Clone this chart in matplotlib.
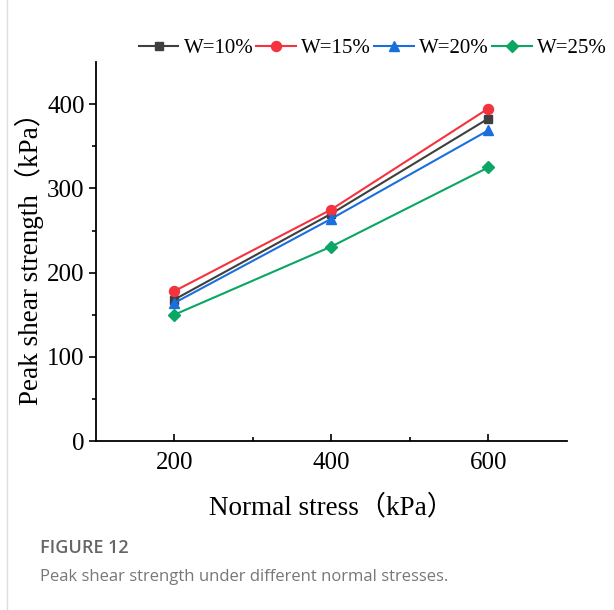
import matplotlib
matplotlib.use('Agg')
import matplotlib.pyplot as plt
from matplotlib.lines import Line2D

plt.rcParams['font.family'] = ['Liberation Serif', 'Noto Sans CJK SC']

stress = [200, 400, 600]
w10 = [168, 270, 383]
w15 = [178, 275, 395]
w20 = [164, 264, 369]
w25 = [150, 231, 325]
labels = ['W=10%', 'W=15%', 'W=20%', 'W=25%']

fig = plt.figure(figsize=(6.14, 6.10), dpi=100)
ax = fig.add_axes([0.156, 0.277, 0.767, 0.621])

ax.plot(stress, w10, color='#3f3f3f', marker='s', ms=6.3, lw=1.5, label=labels[0])
ax.plot(stress, w15, color='#f5333f', marker='o', ms=7.2, lw=1.5, label=labels[1])
ax.plot(stress, w20, color='#1a6fdf', marker='^', ms=7.5, lw=1.5, label=labels[2])
ax.plot(stress, w25, color='#0aa664', marker='D', ms=6, lw=1.5, label=labels[3])

ax.set_xlim(100, 700)
ax.set_ylim(0, 450)
ax.set_xticks([200, 400, 600])
ax.set_xticks([300, 500], minor=True)
ax.set_yticks([0, 100, 200, 300, 400])
ax.set_yticks([50, 150, 250, 350], minor=True)
ax.spines['top'].set_visible(False)
ax.spines['right'].set_visible(False)
for s in ['left', 'bottom']:
    ax.spines[s].set_linewidth(1.3)
ax.tick_params(axis='x', which='major', direction='in', length=5, width=1.2,
               labelsize=18, pad=8)
ax.tick_params(axis='x', which='minor', direction='in', length=3, width=1.2)
ax.tick_params(axis='y', which='major', direction='out', length=5, width=1.2,
               labelsize=18, pad=3)
ax.tick_params(axis='y', which='minor', direction='out', length=3, width=1.2)

ax.set_xlabel('Normal stress（kPa）', fontsize=19.5, labelpad=15)
ax.set_ylabel('Peak shear strength（kPa）', fontsize=19.5, labelpad=2)

ax.legend(loc='lower center', bbox_to_anchor=(0.588, 1.0), ncol=4, frameon=False,
          fontsize=15, handlelength=1.9, columnspacing=0.15, handletextpad=0.25,
          borderaxespad=0, borderpad=0.2)

fig.add_artist(Line2D([0.011, 0.011], [0, 1], color='#dddddd', lw=1))
fig.text(0.065, 0.093, 'FIGURE 12', fontsize=13, color='#666666',
         family='Open Sans', fontweight='semibold')
fig.text(0.065, 0.047, 'Peak shear strength under different normal stresses.',
         fontsize=12, color='#777777', family='Open Sans')

fig.savefig('out.png', dpi=100)
